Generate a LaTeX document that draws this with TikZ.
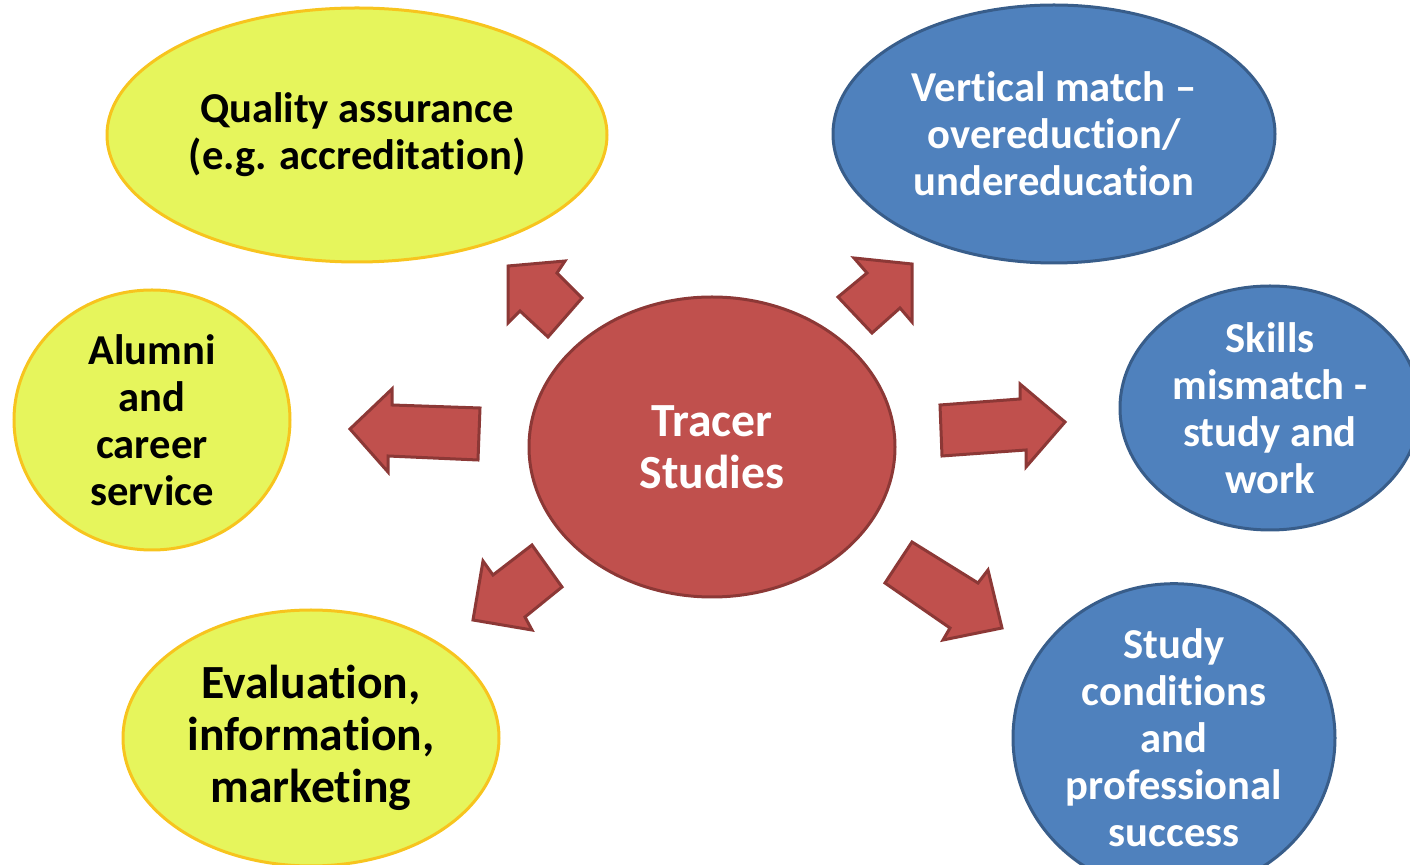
\documentclass[tikz,border=0pt]{standalone}
\usepackage{fontspec}
\setmainfont{Carlito}[RawFeature=-liga]
\usetikzlibrary{shapes.geometric}
\definecolor{yfill}{RGB}{230,245,92}
\definecolor{yedge}{RGB}{247,196,30}
\definecolor{bfill}{RGB}{79,129,189}
\definecolor{bedge}{RGB}{56,93,138}
\definecolor{rfill}{RGB}{192,80,77}
\definecolor{redge}{RGB}{140,56,54}
\begin{document}
\begin{tikzpicture}[x=0.5pt,y=-0.5pt,
  bubble/.style={ellipse, inner sep=0pt, line width=1.5pt, align=center,
    font=\bfseries\fontsize{21.3}{23.5}\selectfont},
  ybub/.style={bubble, fill=yfill, draw=yedge, text=black},
  bbub/.style={bubble, fill=bfill, draw=bedge, text=white},
  rbub/.style={bubble, fill=rfill, draw=redge, text=white,
    font=\bfseries\fontsize{23.8}{26}\selectfont},
  blockarrow/.style={fill=rfill, draw=redge, line width=1.5pt, line join=miter}]
\useasboundingbox (0,0) rectangle (1410,865);
\clip (0,0) rectangle (1410,865);

\node[ybub, minimum width=250pt, minimum height=127pt] (qa) at (357,135)
  {Quality assurance\\(e.g. accreditation)};
\node[ybub, minimum width=138pt, minimum height=130pt] (alumni) at (152,420)
  {Alumni\\and\\career\\service};
\node[ybub, minimum width=188pt, minimum height=128pt,
  font=\bfseries\fontsize{23.8}{26}\selectfont] (eval) at (311,738)
  {Evaluation,\\information,\\marketing};
\node[rbub, minimum width=183pt, minimum height=150pt] (tracer) at (712,447)
  {Tracer\\Studies};
\node[bbub, minimum width=221pt, minimum height=129pt] (vert) at (1054,134)
  {Vertical match --\\overeduction/\\undereducation};
\node[bbub, minimum width=150pt, minimum height=122pt] (skills) at (1270,408)
  {Skills\\mismatch -\\study and\\work};
\node[bbub, minimum width=161pt, minimum height=128pt] (study) at (1174,738)
  {Study\\conditions\\and\\professional\\success};

% block arrows
\draw[blockarrow] (582,298) -- (557,273) -- (565,261) -- (508,266) -- (508,323) -- (520,311) -- (548,337) -- cycle;
\draw[blockarrow] (838,297) -- (867,273) -- (854,258) -- (912,264) -- (912,322) -- (900,308) -- (872,333) -- cycle;
\draw[blockarrow] (480,408) -- (392,405) -- (392,389) -- (350,429) -- (388,472) -- (388,456) -- (478,460) -- cycle;
\draw[blockarrow] (940,405) -- (1020,399) -- (1020,384) -- (1065,422) -- (1026,467) -- (1026,450) -- (942,456) -- cycle;
\draw[blockarrow] (532,545) -- (493,575) -- (483,561) -- (473,620) -- (532,630) -- (525,617) -- (562,587) -- cycle;
\draw[blockarrow] (912,542) -- (978,583) -- (988,570) -- (1002,628) -- (943,640) -- (950,628) -- (885,583) -- cycle;
\end{tikzpicture}
\end{document}
